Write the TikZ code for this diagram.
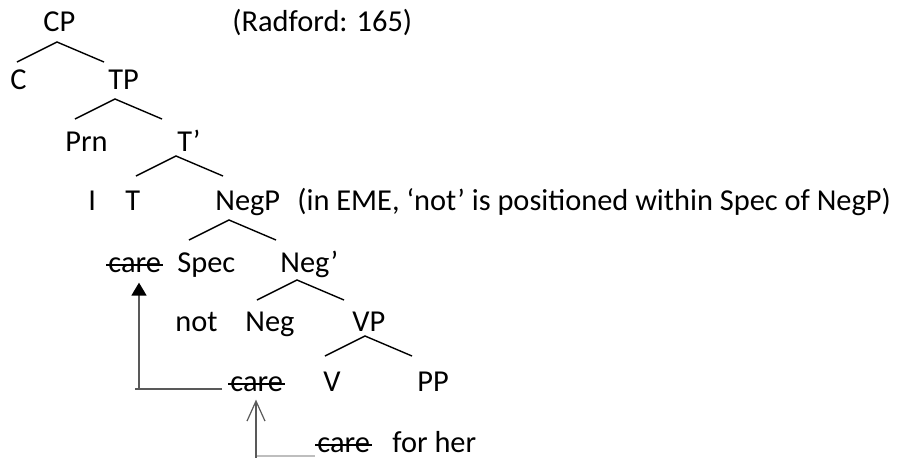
\documentclass[tikz,border=0pt]{standalone}
\usepackage{fontspec}
\setmainfont{Carlito}
\definecolor{movegray}{RGB}{89, 89, 89}
\definecolor{palegray}{RGB}{190, 190, 190}
\usetikzlibrary{arrows.meta, positioning, calc}
\tikzset{
	cat/.style={anchor=base west, inner sep=0pt, font=\fontsize{15.2}{18}\selectfont},
	forkline/.style={line width=0.7pt, draw=black},
	strike/.style={line width=0.7pt, draw=black},
	guide/.style={line width=0.8pt, draw=movegray},
	paleguide/.style={line width=0.6pt, draw=palegray},
	movearrow/.style={-{Triangle[length=6.5pt, width=7.5pt, color=black]}, line width=0.8pt, draw=movegray},
	openarrow/.style={-{Straight Barb[length=10pt, width=9pt]}, line width=0.6pt, draw=movegray},
}
\newcommand{\treefork}[1]{\draw[forkline] (#1) ++(-40,20) -- (#1) -- ++(47,20);}

\begin{document}
\begin{tikzpicture}[x=0.5pt, y=-0.5pt]
		\useasboundingbox (0,0) rectangle (902,457);
		% tree labels, row by row
		\node[cat] (cp) at (43,31) {CP};
		\node[cat] (src) at (232,31) {(Radford: 165)};
		\node[cat] (c) at (10,89) {C};
		\node[cat] (tp) at (108,89) {TP};
		\node[cat] (prn) at (65,151) {Prn};
		\node[cat] (tbar) at (177,151) {T’};
		\node[cat] (i) at (88,210) {I};
		\node[cat] (t) at (125,210) {T};
		\node[cat] (negp) at (215,210) {NegP};
		\node[cat] (note) at (297,210) {(in EME, ‘not’ is positioned within Spec of NegP)};
		\node[cat] (care1) at (108,272) {care};
		\node[cat] (spec) at (177,272) {Spec};
		\node[cat] (negbar) at (280,272) {Neg’};
		\node[cat] (not) at (175,331) {not};
		\node[cat] (neg) at (245,331) {Neg};
		\node[cat] (vp) at (352,331) {VP};
		\node[cat] (care2) at (230,391) {care};
		\node[cat] (v) at (323,391) {V};
		\node[cat] (pp) at (417,391) {PP};
		\node[cat] (care3) at (317,452) {care};
		\node[cat] (forher) at (392,452) {for her};
		% branching points
		\coordinate (cp-fork) at (57,42);
		\coordinate (tp-fork) at (115,99);
		\coordinate (tbar-fork) at (176,156);
		\coordinate (negp-fork) at (229,220);
		\coordinate (negbar-fork) at (297,280);
		\coordinate (vp-fork) at (365,336);
		\foreach \f in {cp-fork, tp-fork, tbar-fork, negp-fork, negbar-fork, vp-fork}
			\treefork{\f}
		% deleted copies
		\foreach \w in {care1, care2, care3}
			\draw[strike] ([shift={(-2,-7)}]\w.base west) -- ([shift={(2,-7)}]\w.base east);
		% movement care -> care
		\coordinate (mv-corner) at (135,389);
		\coordinate (mv-up) at (139,389);
		\draw[guide] ([shift={(-8,-2)}]care2.base west) -- (mv-corner);
		\draw[movearrow, shorten >=5pt] (mv-up) -- (mv-up |- care1.south);
		\coordinate (mv2-foot) at (256,460);
		\coordinate (mv2-turn) at (256,456);
		\draw[paleguide] ([shift={(-2,4)}]care3.base west) -- (mv2-turn);
		\draw[openarrow, shorten >=4pt] (mv2-foot) -- (mv2-foot |- care2.south);
	\end{tikzpicture}
\end{document}
